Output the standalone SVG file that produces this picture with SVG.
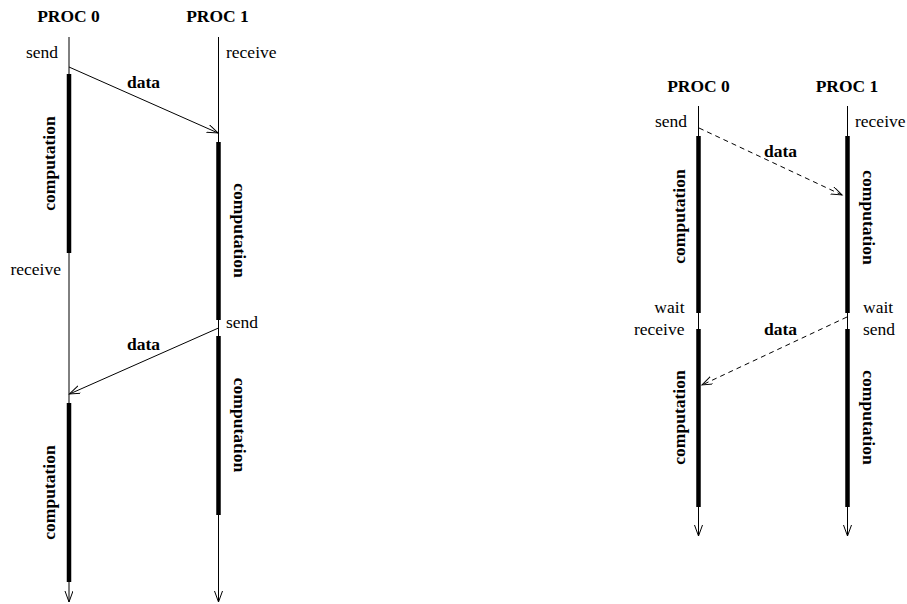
<svg xmlns="http://www.w3.org/2000/svg" width="907" height="604" viewBox="0 0 907 604">
<style>
text{font-family:"Liberation Serif","Times New Roman",serif;font-size:17.5px;fill:#000}
.b{font-weight:bold}
.m{text-anchor:middle}
.e{text-anchor:end}
.life{stroke:#000;stroke-width:1;fill:none}
.bar{stroke:#000;stroke-width:4.5;fill:none}
.msg{stroke:#000;stroke-width:1;fill:none}
.dash{stroke-dasharray:5 4}
</style>
<defs>
<marker id="ah" markerUnits="userSpaceOnUse" markerWidth="14" markerHeight="10" refX="11" refY="4" orient="auto">
<path d="M0,0 L11,4 L0,8" fill="none" stroke="#000" stroke-width="1"/>
</marker>
</defs>
<rect width="907" height="604" fill="#fff"/>

<!-- Left diagram -->
<g id="left-proc0">
<text class="b m" x="68.5" y="22">PROC 0</text>
<line class="life" x1="69" y1="37" x2="69" y2="602" marker-end="url(#ah)"/>
<line class="bar" x1="69" y1="74" x2="69" y2="253"/>
<line class="bar" x1="69" y1="403" x2="69" y2="582"/>
<text class="e" x="58" y="58">send</text>
<text class="e" x="61" y="275">receive</text>
<text class="b m" transform="translate(55,163.5) rotate(-90)">computation</text>
<text class="b m" transform="translate(55,492.5) rotate(-90)">computation</text>
</g>
<g id="left-proc1">
<text class="b m" x="217.5" y="22">PROC 1</text>
<line class="life" x1="218.5" y1="37" x2="218.5" y2="602" marker-end="url(#ah)"/>
<line class="bar" x1="218.5" y1="142" x2="218.5" y2="320"/>
<line class="bar" x1="218.5" y1="336" x2="218.5" y2="515"/>
<text x="226" y="58">receive</text>
<text x="226" y="328">send</text>
<text class="b m" transform="translate(233.5,230.5) rotate(90)">computation</text>
<text class="b m" transform="translate(233.5,425) rotate(90)">computation</text>
</g>

<!-- Right diagram -->
<g id="right-proc0">
<text class="b m" x="698.5" y="92">PROC 0</text>
<line class="life" x1="698.5" y1="106" x2="698.5" y2="536" marker-end="url(#ah)"/>
<line class="bar" x1="698.5" y1="136" x2="698.5" y2="313"/>
<line class="bar" x1="698.5" y1="329" x2="698.5" y2="507"/>
<text class="e" x="687" y="127">send</text>
<text class="e" x="684.5" y="313">wait</text>
<text class="e" x="684.5" y="335">receive</text>
<text class="b m" transform="translate(685,216.5) rotate(-90)">computation</text>
<text class="b m" transform="translate(685,417.5) rotate(-90)">computation</text>
</g>
<g id="right-proc1">
<text class="b m" x="847" y="92">PROC 1</text>
<line class="life" x1="847.5" y1="106" x2="847.5" y2="536" marker-end="url(#ah)"/>
<line class="bar" x1="847.5" y1="136" x2="847.5" y2="313"/>
<line class="bar" x1="847.5" y1="329" x2="847.5" y2="507"/>
<text x="855" y="127">receive</text>
<text x="863" y="313">wait</text>
<text x="863" y="335">send</text>
<text class="b m" transform="translate(862.5,217.5) rotate(90)">computation</text>
<text class="b m" transform="translate(862.5,417.5) rotate(90)">computation</text>
</g>

<g id="connectors">
<line class="msg" x1="69" y1="67" x2="218" y2="133" marker-end="url(#ah)"/>
<text class="b" x="127" y="88">data</text>
<line class="msg" x1="218.5" y1="328" x2="69.5" y2="394" marker-end="url(#ah)"/>
<text class="b" x="127" y="350">data</text>
<line class="msg dash" x1="699" y1="128" x2="842" y2="195" marker-end="url(#ah)"/>
<text class="b" x="764" y="157">data</text>
<line class="msg dash" x1="847" y1="317" x2="702" y2="385" marker-end="url(#ah)"/>
<text class="b" x="764" y="335">data</text>
</g>
</svg>
